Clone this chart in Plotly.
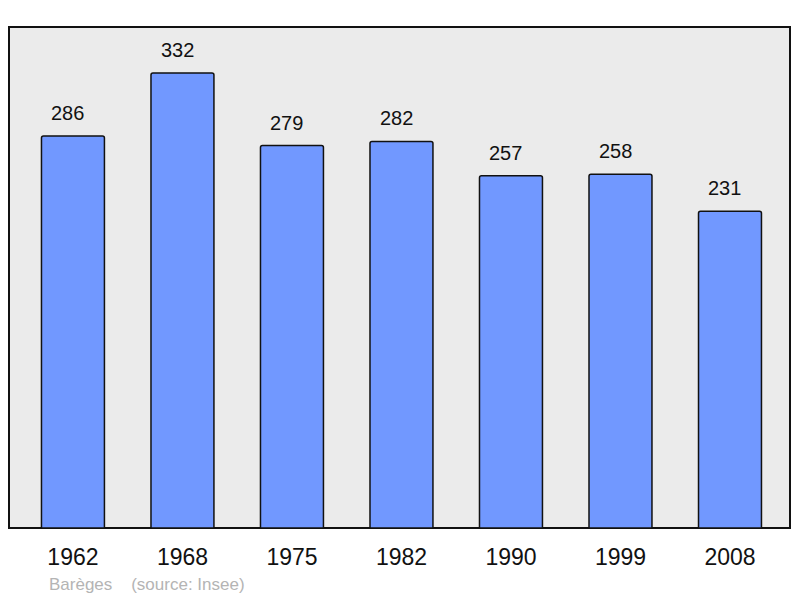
import plotly.graph_objects as go

years = ["1962", "1968", "1975", "1982", "1990", "1999", "2008"]
population = [286, 332, 279, 282, 257, 258, 231]
place = "Barèges"
source = "(source: Insee)"

fig = go.Figure()
fig.add_trace(go.Bar(
    x=list(range(len(years))), y=population, width=0.575,
    marker=dict(color="#7198ff", line=dict(color="#111111", width=1.5), cornerradius=2),
    hoverinfo="skip",
))
for i, v in enumerate(population):
    fig.add_annotation(x=i, y=v, text=str(v), showarrow=False, yanchor="bottom", yshift=10, xshift=-5,
                       font=dict(family="Liberation Sans, Arial", size=20, color="#111111"))

fig.add_annotation(xref="paper", yref="paper", x=0, xshift=38, y=0, yshift=-56, xanchor="left", yanchor="middle",
                   text=place + "&nbsp;&nbsp;&nbsp;&nbsp;" + source, showarrow=False,
                   font=dict(family="Liberation Sans, Arial", size=17, color="#b4b4b4"))

fig.add_shape(type="rect", xref="paper", yref="paper", x0=0, x1=1, y0=0, y1=1,
              line=dict(color="#111111", width=2), fillcolor="#ebebeb", layer="below")

fig.update_layout(
    width=792, height=590,
    margin=dict(l=1, r=10, t=19, b=70),
    paper_bgcolor="white", plot_bgcolor="#ebebeb",
    showlegend=False,
    xaxis=dict(range=[-0.584, 6.548], showgrid=False, zeroline=False,
               tickmode="array", tickvals=list(range(len(years))), ticktext=years,
               ticks="outside", ticklen=8, tickcolor="rgba(0,0,0,0)",
               tickfont=dict(family="Liberation Sans, Arial", size=23, color="#111111"),
               fixedrange=True),
    yaxis=dict(range=[0, 365.5], showgrid=False, zeroline=False, showticklabels=False, fixedrange=True),
)
fig.write_html("out.html")
